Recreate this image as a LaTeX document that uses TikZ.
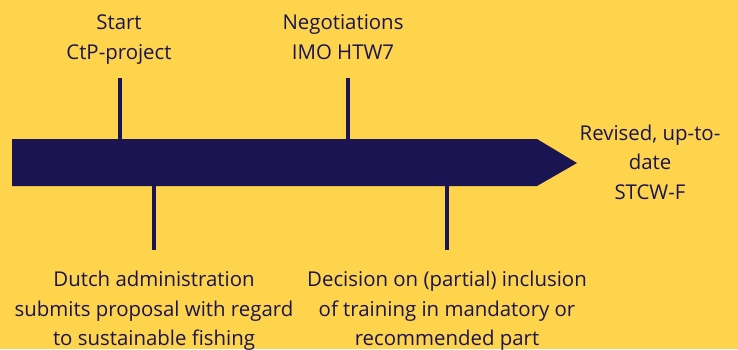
\documentclass[tikz,border=0pt]{standalone}
\usepackage{fontspec}
\setmainfont{Open Sans}
\definecolor{plexyellow}{HTML}{FDD44B}
\definecolor{plexnavy}{HTML}{1B1452}
\tikzset{
  tick/.style={draw=plexnavy, line width=3.2pt},
  label/.style={text=plexnavy, align=center, anchor=base, inner sep=0pt,
    font=\fontsize{20.4}{29.5}\selectfont},
}
\begin{document}
\begin{tikzpicture}[x=1pt,y=-1pt]
\fill[plexyellow] (0,0) rectangle (738,349);
\useasboundingbox (0,0) rectangle (738,349);
\coordinate (bl) at (12,139);
\coordinate (br) at (537,139);
\coordinate (tip) at (577,163);
\coordinate (dr) at (537,186);
\coordinate (dl) at (12,186);
\fill[plexnavy] (bl) -- (br) -- (tip) -- (dr) -- (dl) -- cycle;
\node[label] (start) at (119,59){Start\\CtP-project};
\node[label] (nego) at (343,59){Negotiations\\IMO HTW7};
\node[label] (stcw) at (650,199){Revised, up-to-\\date\\STCW-F};
\node[label] (dutch) at (154,345.5){Dutch administration\\submits proposal with regard\\to sustainable fishing};
\node[label] (decis) at (447,345.5){Decision on (partial) inclusion\\of training in mandatory or\\recommended part};
\coordinate (t1) at (120,78);
\coordinate (a1) at (120,139);
\coordinate (t2) at (348,78);
\coordinate (a2) at (348,139);
\coordinate (t3) at (154,250);
\coordinate (a3) at (154,186);
\coordinate (t4) at (447,250);
\coordinate (a4) at (447,186);
\draw[tick](t1) -- (a1);
\draw[tick](t2) -- (a2);
\draw[tick](a3) -- (t3);
\draw[tick](a4) -- (t4);
\end{tikzpicture}
\end{document}
